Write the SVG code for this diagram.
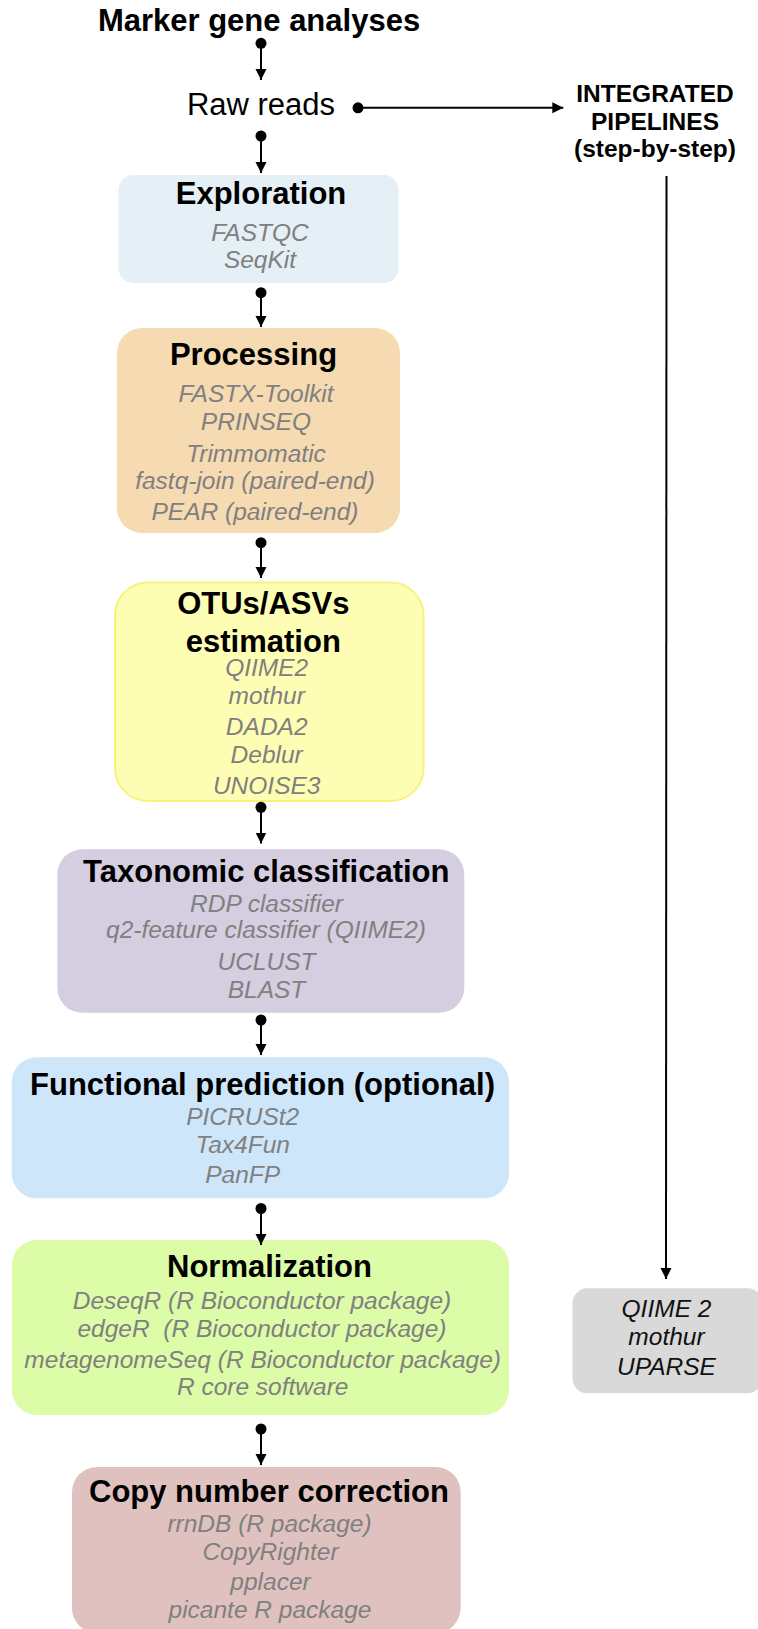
<svg xmlns="http://www.w3.org/2000/svg" width="758" height="1629" viewBox="0 0 758 1629">
<style>
text{font-family:"Liberation Sans",Arial,sans-serif;text-anchor:middle}
.title{font-size:31px;font-weight:bold;fill:#000}
.plain{font-size:31px;fill:#000}
.pipe{font-size:24.5px;font-weight:bold;fill:#000}
.hdr{font-size:31px;font-weight:bold;fill:#000}
.tool{font-size:24.5px;font-style:italic;fill:#808080}
.tool2{font-size:24.5px;font-style:italic;fill:#111}
.conn line{stroke:#000;stroke-width:2;fill:none}
.conn circle{fill:#000}
</style>
<defs>
<marker id="arr" markerUnits="userSpaceOnUse" markerWidth="12" markerHeight="12" refX="11" refY="5.5" orient="auto">
<path d="M0,0 L11,5.5 L0,11 z" fill="#000"/>
</marker>
</defs>
<g id="title"><text class="title" x="259" y="31">Marker gene analyses</text></g>
<g id="raw-reads"><text class="plain" x="261" y="115">Raw reads</text></g>
<g id="integrated">
<text class="pipe" x="655" y="102">INTEGRATED</text>
<text class="pipe" x="655" y="129.5">PIPELINES</text>
<text class="pipe" x="655" y="157">(step-by-step)</text>
</g>
<g id="exploration">
<rect x="118.5" y="175" width="280" height="108" rx="15" fill="#e4eff6"/>
<text class="hdr" x="261" y="204">Exploration</text>
<text class="tool" x="260" y="241">FASTQC</text>
<text class="tool" x="260" y="267.5">SeqKit</text>
</g>
<g id="processing">
<rect x="117" y="328" width="283" height="205" rx="25" fill="#f6dab2"/>
<text class="hdr" x="253.5" y="365">Processing</text>
<text class="tool" x="256" y="401.7">FASTX-Toolkit</text>
<text class="tool" x="256" y="430">PRINSEQ</text>
<text class="tool" x="256" y="461.7">Trimmomatic</text>
<text class="tool" x="255" y="489.3">fastq-join (paired-end)</text>
<text class="tool" x="255" y="520">PEAR (paired-end)</text>
</g>
<g id="otus">
<rect x="115" y="582.5" width="308.5" height="218.5" rx="33" fill="#fefdb4" stroke="#f8f27a" stroke-width="2"/>
<text class="hdr" x="263.3" y="614">OTUs/ASVs</text>
<text class="hdr" x="263.3" y="651.7">estimation</text>
<text class="tool" x="266.7" y="676">QIIME2</text>
<text class="tool" x="266.7" y="704">mothur</text>
<text class="tool" x="266.7" y="735">DADA2</text>
<text class="tool" x="266.7" y="763.3">Deblur</text>
<text class="tool" x="266.7" y="794">UNOISE3</text>
</g>
<g id="taxonomic">
<rect x="57.3" y="849.3" width="407" height="163.4" rx="25" fill="#d5cde0"/>
<text class="hdr" x="266.3" y="881.7">Taxonomic classification</text>
<text class="tool" x="266.5" y="911.7">RDP classifier</text>
<text class="tool" x="266" y="938.3">q2-feature classifier (QIIME2)</text>
<text class="tool" x="266.5" y="970">UCLUST</text>
<text class="tool" x="266.5" y="997.7">BLAST</text>
</g>
<g id="functional">
<rect x="11.7" y="1057.3" width="497.3" height="141" rx="25" fill="#cde6fa"/>
<text class="hdr" x="262.5" y="1095">Functional prediction (optional)</text>
<text class="tool" x="242.7" y="1125">PICRUSt2</text>
<text class="tool" x="242.7" y="1153.3">Tax4Fun</text>
<text class="tool" x="242.7" y="1183.3">PanFP</text>
</g>
<g id="normalization">
<rect x="12" y="1240" width="497" height="175" rx="25" fill="#dcfca8"/>
<text class="hdr" x="269.5" y="1277.3">Normalization</text>
<text class="tool" x="262" y="1309.3">DeseqR (R Bioconductor package)</text>
<text class="tool" x="262" y="1336.7" xml:space="preserve">edgeR  (R Bioconductor package)</text>
<text class="tool" x="262.7" y="1368.3">metagenomeSeq (R Bioconductor package)</text>
<text class="tool" x="262.7" y="1395">R core software</text>
</g>
<g id="copy-number">
<rect x="72" y="1467" width="388.7" height="166" rx="25" fill="#dfc2bf"/>
<text class="hdr" x="269" y="1501.7">Copy number correction</text>
<text class="tool" x="269.5" y="1531.7">rrnDB (R package)</text>
<text class="tool" x="270.5" y="1560">CopyRighter</text>
<text class="tool" x="270.5" y="1590">pplacer</text>
<text class="tool" x="270" y="1618.3">picante R package</text>
</g>
<g id="pipelines-tools">
<rect x="572.5" y="1288.3" width="190" height="105" rx="15" fill="#d9d9d9"/>
<text class="tool2" x="666.5" y="1316.7">QIIME 2</text>
<text class="tool2" x="666.5" y="1345">mothur</text>
<text class="tool2" x="666.5" y="1375">UPARSE</text>
</g>
<g id="connectors" class="conn">
<circle cx="261" cy="43.3" r="5.5"/><line x1="261" y1="43.3" x2="261" y2="80" marker-end="url(#arr)"/>
<circle cx="261" cy="136" r="5.5"/><line x1="261" y1="136" x2="261" y2="173" marker-end="url(#arr)"/>
<circle cx="261" cy="292.7" r="5.5"/><line x1="261" y1="292.7" x2="261" y2="327" marker-end="url(#arr)"/>
<circle cx="261" cy="542.7" r="5.5"/><line x1="261" y1="542.7" x2="261" y2="578" marker-end="url(#arr)"/>
<circle cx="261" cy="807.3" r="5.5"/><line x1="261" y1="807.3" x2="261" y2="843.5" marker-end="url(#arr)"/>
<circle cx="261" cy="1020" r="5.5"/><line x1="261" y1="1020" x2="261" y2="1055" marker-end="url(#arr)"/>
<circle cx="261" cy="1208.5" r="5.5"/><line x1="261" y1="1208.5" x2="261" y2="1245" marker-end="url(#arr)"/>
<circle cx="261" cy="1429" r="5.5"/><line x1="261" y1="1429" x2="261" y2="1465" marker-end="url(#arr)"/>
<circle cx="358" cy="107.8" r="5.5"/><line x1="358" y1="107.8" x2="563.3" y2="107.8" marker-end="url(#arr)"/>
<line x1="666.5" y1="176" x2="666" y2="1279" marker-end="url(#arr)"/>
</g>
</svg>
